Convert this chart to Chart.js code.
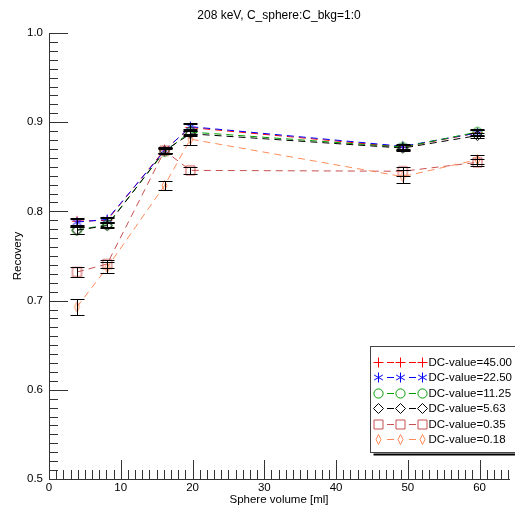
<!DOCTYPE html>
<html><head><meta charset="utf-8">
<script src="https://cdn.jsdelivr.net/npm/chart.js@4.4.1/dist/chart.umd.min.js"></script>
<style>html,body{margin:0;padding:0;background:#fff;overflow:hidden}#wrap{width:515px;height:511px;position:relative}</style>
</head><body><div id="wrap"><canvas id="c"></canvas></div>
<script>
// ---- data ----
const volumes = [3.9, 8.1, 16.1, 19.7, 49.3, 59.7];
const seriesLabels = ['DC-value=45.00', 'DC-value=22.50', 'DC-value=11.25', 'DC-value=5.63', 'DC-value=0.35', 'DC-value=0.18'];
const rec45   = [0.789, 0.790, 0.869, 0.894, 0.872, 0.888];
const rec22   = [0.788, 0.791, 0.868, 0.895, 0.873, 0.888];
const rec11   = [0.779, 0.785, 0.867, 0.889, 0.872, 0.889];
const rec5    = [0.779, 0.784, 0.868, 0.887, 0.871, 0.885];
const rec035  = [0.732, 0.741, 0.868, 0.846, 0.845, 0.855];
const rec018  = [0.693, 0.737, 0.829, 0.881, 0.839, 0.858];
const err45   = [0.004, 0.003, 0.003, 0.004, 0.003, 0.003];
const err22   = [0.004, 0.003, 0.003, 0.004, 0.003, 0.003];
const err11   = [0.004, 0.003, 0.003, 0.003, 0.003, 0.003];
const err5    = [0.004, 0.003, 0.003, 0.003, 0.003, 0.003];
const err035  = [0.006, 0.005, 0.003, 0.004, 0.005, 0.004];
const err018  = [0.009, 0.006, 0.005, 0.006, 0.007, 0.005];
const yTickLabels = ['0.5', '0.6', '0.7', '0.8', '0.9', '1.0'];
const xTickLabels = ['0', '10', '20', '30', '40', '50', '60'];

const FONT = "'Liberation Sans', Arial, Helvetica, sans-serif";

// ---- marker images ----
function makeMarker(type, color) {
  const S = 13, c = document.createElement('canvas');
  c.width = S; c.height = S;
  const g = c.getContext('2d');
  g.strokeStyle = color; g.lineWidth = 1;
  const m = S / 2;
  g.beginPath();
  if (type === 'plus') {
    g.moveTo(m - 5, m); g.lineTo(m + 5, m); g.moveTo(m, m - 5); g.lineTo(m, m + 5);
  } else if (type === 'star') {
    const r = 5;
    for (let k = 0; k < 3; k++) {
      const a = Math.PI / 2 + k * Math.PI / 3;
      g.moveTo(m + r * Math.cos(a), m - r * Math.sin(a));
      g.lineTo(m - r * Math.cos(a), m + r * Math.sin(a));
    }
  } else if (type === 'circle') {
    g.arc(m, m, 4.6, 0, Math.PI * 2);
  } else if (type === 'diamond') {
    g.moveTo(m, m - 5); g.lineTo(m + 5, m); g.lineTo(m, m + 5); g.lineTo(m - 5, m); g.closePath();
  } else if (type === 'square') {
    g.rect(m - 4.5, m - 4.5, 9, 9);
  } else if (type === 'thindiamond') {
    g.moveTo(m, m - 5); g.lineTo(m + 2.5, m); g.lineTo(m, m + 5); g.lineTo(m - 2.5, m); g.closePath();
  }
  g.stroke();
  return c;
}

const colors = ['#ff0000', '#0000ff', '#00a000', '#000000', '#c85050', '#ff8c5a'];
const markerTypes = ['plus', 'star', 'circle', 'diamond', 'square', 'thindiamond'];
const recs = [rec45, rec22, rec11, rec5, rec035, rec018];
const errs = [err45, err22, err11, err5, err035, err018];
const markers = markerTypes.map((t, i) => makeMarker(t, colors[i]));

const datasets = recs.map((r, i) => ({
  label: seriesLabels[i],
  data: volumes.map((v, j) => ({x: v, y: r[j]})),
  errors: errs[i],
  borderColor: colors[i],
  borderWidth: 1,
  borderDash: [7, 5],
  pointStyle: markers[i],
  pointRadius: 5,
  fill: false,
  tension: 0,
  order: recs.length - i
}));

// ---- plugins ----
const inwardTicks = {
  id: 'inwardTicks',
  beforeDatasetsDraw(chart) {
    const {ctx, chartArea: a, scales: {x, y}} = chart;
    ctx.save();
    ctx.strokeStyle = '#333'; ctx.lineWidth = 1;
    ctx.beginPath();
    for (let i = 0; i <= 50; i++) {
      const py = Math.round(y.getPixelForValue(0.5 + i * 0.01)) + 0.5;
      const len = (i % 10 === 0) ? 19 : 9;
      ctx.moveTo(a.left, py); ctx.lineTo(a.left + len, py);
    }
    for (let i = 0; i <= 64; i++) {
      const px = Math.round(x.getPixelForValue(i)) + 0.5;
      const len = (i % 10 === 0) ? 19 : 9;
      ctx.moveTo(px, a.bottom); ctx.lineTo(px, a.bottom - len);
    }
    ctx.stroke(); ctx.restore();
  }
};

const errorBars = {
  id: 'errorBars',
  afterDatasetsDraw(chart) {
    const {ctx, scales: {y}} = chart;
    ctx.save();
    ctx.strokeStyle = '#000'; ctx.lineWidth = 1;
    chart.data.datasets.forEach((ds, i) => {
      const meta = chart.getDatasetMeta(i);
      meta.data.forEach((pt, j) => {
        const v = ds.data[j].y, e = ds.errors[j];
        const y1 = Math.round(y.getPixelForValue(v - e)) + 0.5;
        const y2 = Math.round(y.getPixelForValue(v + e)) + 0.5;
        const px = Math.round(pt.x) + 0.5;
        ctx.beginPath();
        ctx.moveTo(px, y1); ctx.lineTo(px, y2);
        ctx.moveTo(px - 7, y1); ctx.lineTo(px + 7, y1);
        ctx.moveTo(px - 7, y2); ctx.lineTo(px + 7, y2);
        ctx.stroke();
      });
    });
    ctx.restore();
  }
};

const idlLegend = {
  id: 'idlLegend',
  afterDraw(chart) {
    const {ctx} = chart;
    const L = 370.5, T = 346.5, B = 452.5, R = 530;
    ctx.save();
    ctx.fillStyle = '#000';
    ctx.fillRect(L + 3, B + 1, R - L, 2);
    ctx.fillStyle = '#fff';
    ctx.fillRect(L, T, R - L, B - T);
    ctx.strokeStyle = '#444'; ctx.lineWidth = 1;
    ctx.strokeRect(L, T, R - L, B - T);
    ctx.font = '11.5px ' + FONT;
    ctx.textBaseline = 'middle';
    chart.data.datasets.forEach((ds, i) => {
      const yy = Math.round(362 + i * 15.4);
      ctx.strokeStyle = ds.borderColor; ctx.lineWidth = 1;
      ctx.beginPath();
      ctx.moveTo(387, yy + 0.5); ctx.lineTo(394, yy + 0.5);
      ctx.moveTo(409, yy + 0.5); ctx.lineTo(416, yy + 0.5);
      ctx.stroke();
      [378, 400, 422].forEach(mx => {
        ctx.drawImage(ds.pointStyle, mx - 6, yy - 6);
      });
      ctx.fillStyle = '#000';
      ctx.fillText(ds.label, 428.5, yy + 0.5);
    });
    ctx.restore();
  }
};

new Chart(document.getElementById('c'), {
  type: 'line',
  data: {datasets},
  options: {
    responsive: true,
    maintainAspectRatio: false,
    animation: false,
    layout: {padding: 0},
    plugins: {
      legend: {display: false},
      tooltip: {enabled: false},
      title: {
        display: true, fullSize: false,
        text: '208 keV, C_sphere:C_bkg=1:0',
        color: '#000',
        font: {family: FONT, size: 12, weight: 'normal'},
        padding: {top: 8, bottom: 10.6}
      }
    },
    scales: {
      x: {
        type: 'linear', min: 0, max: 64.1,
        afterBuildTicks: s => { s.ticks = s.ticks.filter(t => Math.abs(t.value % 10) < 1e-9); },
        afterFit: s => { s.height = 32; },
        ticks: {
          stepSize: 10, includeBounds: false, autoSkip: false, color: '#000', padding: 2, maxRotation: 0,
          font: {family: FONT, size: 11.5},
          callback: v => xTickLabels[Math.round(v / 10)]
        },
        grid: {drawOnChartArea: false, drawTicks: false},
        border: {display: true, color: '#333', width: 1},
        title: {display: true, text: 'Sphere volume [ml]', color: '#000',
                font: {family: FONT, size: 11.5}, padding: {top: 0, bottom: 4}}
      },
      y: {
        type: 'linear', min: 0.5, max: 1.0,
        afterFit: s => { s.width = 49; },
        ticks: {
          stepSize: 0.1, color: '#000', padding: 6,
          font: {family: FONT, size: 11.5},
          callback: v => yTickLabels[Math.round((v - 0.5) * 10)]
        },
        grid: {drawOnChartArea: false, drawTicks: false},
        border: {display: true, color: '#333', width: 1},
        title: {display: true, text: 'Recovery', color: '#000',
                font: {family: FONT, size: 11.5}, padding: {top: 11, bottom: 0}}
      }
    }
  },
  plugins: [inwardTicks, errorBars, idlLegend]
});
</script>
</body></html>
